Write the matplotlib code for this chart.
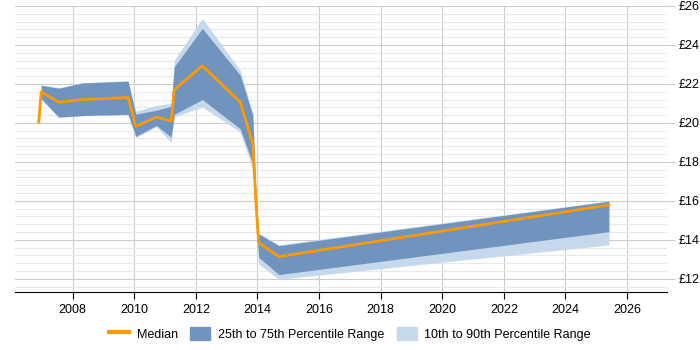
import matplotlib
matplotlib.use("Agg")
import matplotlib.pyplot as plt
import matplotlib.patches as mpatches
from matplotlib.lines import Line2D
import numpy as np

plt.rcParams["font.family"] = ["Liberation Sans", "DejaVu Sans"]

nan = np.nan
years = [2006.9, 2006.98, 2007.55, 2008.33, 2009.8, 2010.05, 2010.72, 2011.2, 2011.3,
         2012.21, 2013.44, 2013.85, 2013.94, 2014.04, 2014.70, 2025.41]
median = [20.04, 21.59, 21.06, 21.2, 21.3, 19.82, 20.3, 20.1, 21.7,
          22.93, 21.07, 18.93, 16.2, 13.85, 13.14, 15.79]
p75 = [nan, 21.93, 21.78, 22.05, 22.14, 20.45, 20.65, 20.85, 22.88,
       24.85, 22.45, 20.39, 16.8, 14.3, 13.7, 15.98]
p25 = [nan, 21.25, 20.3, 20.38, 20.44, 19.31, 19.87, 19.27, 20.44,
       21.2, 19.7, 17.9, 15.5, 13.1, 12.22, 14.42]
p90 = [nan, 21.95, 21.8, 22.07, 22.16, 20.6, 20.9, 21.0, 23.22,
       25.37, 22.7, 20.5, 17.0, 14.35, 13.75, 16.0]
p10 = [nan, 21.2, 20.28, 20.36, 20.42, 19.25, 19.8, 19.0, 20.3,
       20.82, 19.53, 17.6, 15.0, 12.76, 11.98, 13.74]

x_ticks = list(range(2008, 2027, 2))
y_ticks = list(range(12, 27, 2))

fig = plt.figure(figsize=(7, 3.5), dpi=100)
ax = fig.add_axes([0.021, 0.166, 0.932, 0.817])

ax.fill_between(years, p10, p90, color="#c6d9ec", linewidth=0)
ax.fill_between(years, p25, p75, color="#7094bd", linewidth=0)
ax.plot(years, median, color="#ff9900", linewidth=2)

ax.set_xlim(2006.12, 2027.3)
ax.set_ylim(11.33, 26)

ax.set_xticks(x_ticks)
ax.set_yticks(y_ticks)
ax.set_yticks(np.arange(11.6, 26, 0.4), minor=True)
ax.set_yticklabels(["£%d" % v for v in y_ticks])
ax.yaxis.tick_right()
ax.tick_params(axis="y", which="major", length=6, color="#cccccc", labelsize=9, pad=2)
ax.tick_params(axis="y", which="minor", length=0)
ax.tick_params(axis="x", length=5, labelsize=9, color="black")

ax.grid(which="major", color="#cccccc", linewidth=0.8)
ax.grid(which="minor", axis="y", color="#e8e8e8", linewidth=0.8)
ax.set_axisbelow(True)
for s in ["left", "right", "top"]:
    ax.spines[s].set_visible(False)
ax.spines["bottom"].set_color("black")

handles = [
    Line2D([], [], color="#ff9900", linewidth=3),
    mpatches.Patch(color="#7094bd"),
    mpatches.Patch(color="#c6d9ec"),
]
labels = ["Median", "25th to 75th Percentile Range", "10th to 90th Percentile Range"]
fig.legend(handles, labels, loc="center", bbox_to_anchor=(0.5, 0.047), ncol=3,
           frameon=False, fontsize=9, handlelength=1.6, handleheight=1.3, columnspacing=1.0,
           handletextpad=0.6)

fig.savefig("out.png", dpi=100)
